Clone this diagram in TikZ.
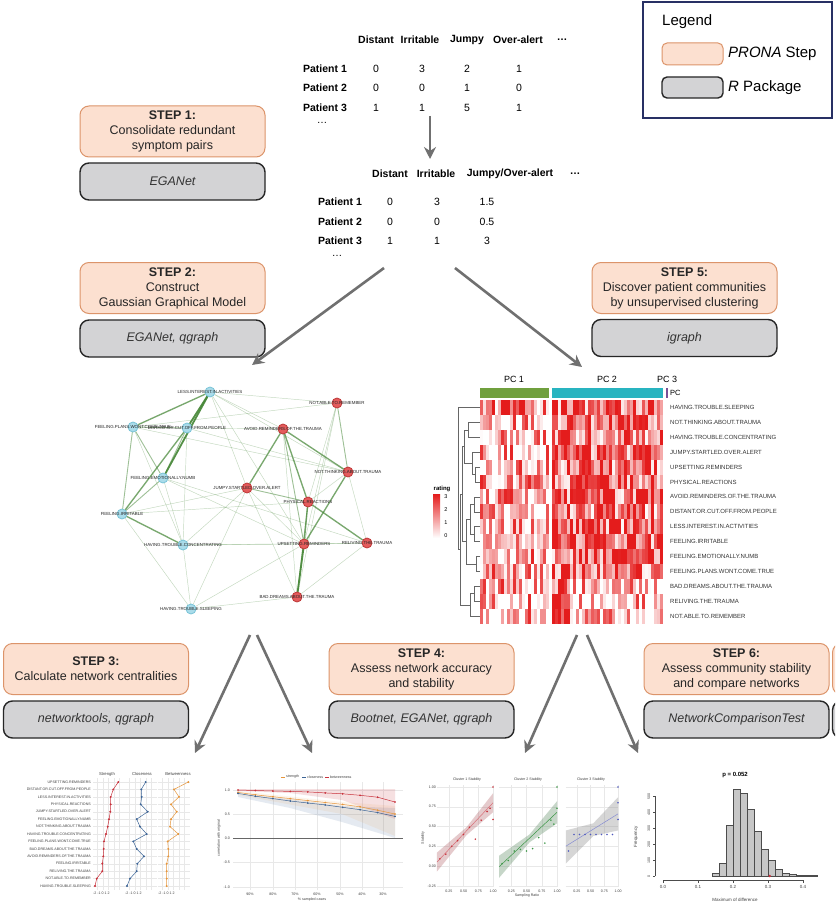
\documentclass[tikz,border=0pt]{standalone}
\usepackage{fontspec}
\setmainfont{Liberation Sans}
\usetikzlibrary{arrows.meta}
\pgfdeclarelayer{bg}
\pgfsetlayers{bg,main}

\definecolor{pronafill}{RGB}{252,224,208}
\definecolor{pronaedge}{RGB}{220,148,106}
\definecolor{rgray}{RGB}{211,211,213}
\definecolor{legendedge}{RGB}{40,48,100}
\definecolor{arrowgray}{RGB}{112,112,112}
\definecolor{netgreen}{RGB}{70,135,55}
\definecolor{netcfill}{RGB}{170,220,234}
\definecolor{netcedge}{RGB}{120,195,215}
\definecolor{netrfill}{RGB}{228,92,92}
\definecolor{netredge}{RGB}{190,55,55}
\definecolor{heatred}{RGB}{228,28,28}
\definecolor{pcgreen}{RGB}{112,160,62}
\definecolor{pcteal}{RGB}{40,180,192}
\definecolor{pcpurple}{RGB}{120,80,150}
\definecolor{cred}{RGB}{200,50,60}
\definecolor{cblue}{RGB}{60,100,150}
\definecolor{corange}{RGB}{230,150,60}
\definecolor{cgreen}{RGB}{60,150,70}
\definecolor{cpblue}{RGB}{80,90,190}

\tikzset{
  prona/.style={draw=pronaedge, fill=pronafill, line width=1pt, rounded corners=9pt,
    minimum width=185pt, minimum height=51pt, align=center, inner sep=2pt,
    text=black!85, font=\fontsize{12.5}{15}\selectfont},
  rpkg/.style={draw=black!85, fill=rgray, line width=1.4pt, rounded corners=9pt,
    minimum width=185pt, minimum height=37pt, inner sep=2pt,
    text=black!80, font=\fontsize{12.5}{15}\selectfont\itshape},
  flow/.style={draw=arrowgray, line width=2.6pt, -{Stealth[length=12pt,width=12pt,inset=4pt]}},
  thead/.style={font=\fontsize{10.5}{12}\selectfont\bfseries, inner sep=0pt},
  tval/.style={font=\fontsize{10.5}{12}\selectfont, inner sep=0pt},
  netc/.style={circle, draw=netcedge, fill=netcfill, line width=0.8pt, minimum size=10pt, inner sep=0pt},
  netr/.style={circle, draw=netredge, fill=netrfill, line width=0.8pt, minimum size=10pt, inner sep=0pt},
  netlab/.style={font=\fontsize{4.4}{5}\selectfont, inner sep=0pt, text=black!85},
  netedge/.style={draw=netgreen, line cap=round},
  hmlab/.style={font=\fontsize{6}{7}\selectfont, anchor=west, inner sep=0pt, text=black!80},
  tiny/.style={font=\fontsize{3.6}{4}\selectfont, inner sep=0pt, text=black!75},
  gridl/.style={draw=black!9, line width=0.3pt},
  dendro/.style={draw=black!60, line width=0.5pt},
}

\begin{document}
\begin{tikzpicture}[x=1pt,y=-1pt]
\useasboundingbox (0,0) rectangle (835,912);
\clip (0,0) rectangle (835,912);
\begin{pgfonlayer}{bg}
\fill[white] (0,0) rectangle (835,912);
\end{pgfonlayer}

%Shape: Legend
\node[draw=legendedge, line width=1.5pt, minimum width=189pt, minimum height=116pt, inner sep=0pt] (legend) at (737.5,60) {};
\node[anchor=west, inner sep=0pt, font=\fontsize{15}{18}\selectfont] (legend-t) at (662,22) {Legend};
\node[prona, minimum width=61pt, minimum height=22pt, rounded corners=5pt] (leg-prona) at (692.5,54) {};
\node[anchor=west, inner sep=0pt, font=\fontsize{15}{18}\selectfont] (leg-prona-t) at (728,54) {\textit{PRONA} Step};
\node[rpkg, minimum width=61pt, minimum height=21pt, rounded corners=5pt] (leg-r) at (692.5,87.5) {};
\node[anchor=west, inner sep=0pt, font=\fontsize{15}{18}\selectfont] (leg-r-t) at (728,87.5) {\textit{R} Package};

% Text Node: raw symptom table
\foreach \name/\x in {Distant/376, Irritable/420, Jumpy/467, Over-alert/518}
  \node[thead] (ha-\name) at (\x,40) {\name};
\node[thead] (ha-dots) at (562,40) {…};
\foreach \r/\y/\a/\b/\c/\d in {1/69/0/3/2/1, 2/88/0/0/1/0, 3/108/1/1/5/1}{
  \node[thead] (pa\r) at (325,\y) {Patient \r};
  \node[tval] (pa\r-1) at (376,\y) {\a};
  \node[tval] (pa\r-2) at (422,\y) {\b};
  \node[tval] (pa\r-3) at (467,\y) {\c};
  \node[tval] (pa\r-4) at (519,\y) {\d};
}
\node[tval] (pa-dots) at (322,123) {…};

% Text Node: merged symptom table
\foreach \name/\x in {Distant/390, Irritable/436, Jumpy\slash Over-alert/510}
  \node[thead] (hb-\x) at (\x,174) {\name};
\node[thead] (hb-dots) at (575,174) {…};
\foreach \r/\y/\a/\b/\c in {1/202/0/3/1.5, 2/222/0/0/0.5, 3/241/1/1/3}{
  \node[thead] (pb\r) at (340,\y) {Patient \r};
  \node[tval] (pb\r-1) at (390,\y) {\a};
  \node[tval] (pb\r-2) at (437,\y) {\b};
  \node[tval] (pb\r-3) at (487,\y) {\c};
}
\node[tval] (pb-dots) at (337,256) {…};

%Straight Lines: table to table
\coordinate (ta-bot) at (430,116);
\coordinate (tb-top) at (430,159);
\draw[flow] (ta-bot) -- (tb-top);

%Shape: steps
\node[prona] (s1) at (172.5,131.5) {\textbf{STEP 1:}\\Consolidate redundant\\symptom pairs};
\node[rpkg] (s1r) at (172.5,181.5) {EGANet};
\node[prona] (s2) at (172.5,288) {\textbf{STEP 2:}\\Construct\\Gaussian Graphical Model};
\node[rpkg] (s2r) at (172.5,338.5) {EGANet, qgraph};
\node[prona] (s5) at (684.5,288) {\textbf{STEP 5:}\\Discover patient communities\\by unsupervised clustering};
\node[rpkg] (s5r) at (684.5,338) {igraph};
\node[prona] (s3) at (96,669) {\textbf{STEP 3:}\\Calculate network centralities};
\node[rpkg] (s3r) at (96,719.5) {networktools, qgraph};
\node[prona] (s4) at (421.5,669) {\textbf{STEP 4:}\\Assess network accuracy\\and stability};
\node[rpkg] (s4r) at (421.5,719.5) {Bootnet, EGANet, qgraph};
\node[prona] (s6) at (736.5,669) {\textbf{STEP 6:}\\Assess community stability\\and compare networks};
\node[rpkg] (s6r) at (736.5,719.5) {NetworkComparisonTest};
\node[prona] (s7) at (925,669) {};
\node[rpkg] (s7r) at (925,719.5) {};

%Straight Lines: table to network and heatmap
\coordinate (tb-l) at (384,268);
\coordinate (net-in) at (252,365);
\coordinate (tb-r) at (455,268);
\coordinate (hm-in) at (582,367);
\draw[flow] (tb-l) -- (net-in);
\draw[flow] (tb-r) -- (hm-in);

%Straight Lines: network and heatmap to plots
\coordinate (net-l) at (250,635);
\coordinate (net-r) at (257,635);
\coordinate (hm-l) at (577,635);
\coordinate (hm-r) at (587,635);
\coordinate (pa-in) at (195,753);
\coordinate (pb-in) at (312,753);
\coordinate (pc-in) at (525,753);
\coordinate (pd-in) at (638,753);
\draw[flow] (net-l) -- (pa-in);
\draw[flow] (net-r) -- (pb-in);
\draw[flow] (hm-l) -- (pc-in);
\draw[flow] (hm-r) -- (pd-in);

%Network graph
\def\netnodes{less/210/392/LESS.INTEREST.IN.ACTIVITIES/netc,
  notable/337/403/NOT.ABLE.TO.REMEMBER/netr,
  plans/133/427/FEELING.PLANS.WONT.COME.TRUE/netc,
  distant/187/428/DISTANT.OR.CUT.OFF.FROM.PEOPLE/netc,
  avoid/283/429/AVOID.REMINDERS.OF.THE.TRAUMA/netr,
  notthink/348/472/NOT.THINKING.ABOUT.TRAUMA/netr,
  numb/163/478/FEELING.EMOTIONALLY.NUMB/netc,
  jumpy/247/488/JUMPY.STARTLED.OVER.ALERT/netr,
  phys/308/502/PHYSICAL.REACTIONS/netr,
  irrit/122/514/FEELING.IRRITABLE/netc,
  conc/183/545/HAVING.TROUBLE.CONCENTRATING/netc,
  upset/304/544/UPSETTING.REMINDERS/netr,
  reliv/367/543/RELIVING.THE.TRAUMA/netr,
  bad/297/597/BAD.DREAMS.ABOUT.THE.TRAUMA/netr,
  sleep/191/609/HAVING.TROUBLE.SLEEPING/netc}
\foreach \n/\x/\y/\t/\s in \netnodes
  \node[\s] (\n) at (\x,\y) {};
\foreach \n/\x/\y/\t/\s in \netnodes
  \node[netlab] (\n-t) at (\x,\y) {\t};
\begin{pgfonlayer}{bg}
\foreach \a/\b/\w in {less/distant/4, less/numb/4, less/plans/3, distant/irrit/3,
  numb/irrit/2, plans/irrit/2, plans/numb/2, plans/distant/2, irrit/conc/3,
  plans/conc/1, numb/conc/1, distant/conc/1, distant/numb/2, conc/sleep/1,
  irrit/sleep/1, avoid/jumpy/3, avoid/phys/3, avoid/notthink/3, avoid/upset/2,
  notthink/upset/3, notthink/notable/2, notthink/phys/1, notthink/reliv/1,
  phys/upset/3, phys/reliv/3, upset/bad/4, phys/bad/2, upset/reliv/1, reliv/bad/1,
  jumpy/phys/2, jumpy/conc/1, jumpy/bad/1, jumpy/sleep/1, less/avoid/1,
  less/notthink/1, less/jumpy/1, less/upset/1, notable/upset/1, notable/less/1,
  notable/plans/1, notable/bad/1, distant/avoid/1, numb/upset/1, numb/reliv/1,
  conc/upset/1, conc/reliv/1, irrit/phys/1, sleep/bad/1, sleep/upset/1,
  plans/notthink/1, distant/notthink/1, jumpy/upset/1, avoid/bad/1,
  notable/phys/1, irrit/jumpy/1}{
  \pgfmathsetmacro\lw{0.45*\w}
  \pgfmathsetmacro\op{0.12+0.2*\w}
  \draw[netedge, line width=\lw pt, draw opacity=\op] (\a) -- (\b);
}
\end{pgfonlayer}

%Heatmap: rating legend
\node[inner sep=0pt, font=\fontsize{6}{7}\selectfont\bfseries] (rating) at (442,489) {rating};
\shade[top color=heatred, bottom color=white] (433,494) rectangle (440,538);
\foreach \v/\y in {3/497, 2/510, 1/523, 0/536}
  \node[inner sep=0pt, font=\fontsize{5.5}{6}\selectfont] (rt\v) at (446,\y) {\v};

%Heatmap: cluster bar
\fill[pcgreen] (480,388) rectangle (549,398);
\fill[pcteal] (552,388) rectangle (663,398);
\fill[pcpurple] (666,388) rectangle (668,398);
\node[inner sep=0pt, font=\fontsize{9}{10}\selectfont] (pc1) at (514,379) {PC 1};
\node[inner sep=0pt, font=\fontsize{9}{10}\selectfont] (pc2) at (607,379) {PC 2};
\node[inner sep=0pt, font=\fontsize{9}{10}\selectfont] (pc3) at (667,379) {PC 3};
\node[inner sep=0pt, anchor=west, font=\fontsize{7.5}{8}\selectfont] (pcl) at (670,393) {PC};

%Heatmap: cells
\pgfmathsetseed{42}
\foreach \r in {0,...,14}{
  \foreach \c in {0,...,22}{
    \pgfmathsetmacro\base{\r==0 ? 55 : 28}
    \pgfmathsetmacro\v{int(max(0,min(100,\base+70*rand)))}
    \fill[heatred!\v!white] (480+3*\c,400+14.9*\r) rectangle +(3,14.9);
  }
  \foreach \c in {0,...,36}{
    \pgfmathsetmacro\base{(\r>11 && \c<6) ? 85 : (\r>11 ? 22 : 72)}
    \pgfmathsetmacro\v{int(max(0,min(100,\base+70*rand)))}
    \fill[heatred!\v!white] (552+3*\c,400+14.9*\r) rectangle +(3,14.9);
  }
}

%Heatmap: row labels
\foreach \lab [count=\i from 0] in {HAVING.TROUBLE.SLEEPING, NOT.THINKING.ABOUT.TRAUMA,
  HAVING.TROUBLE.CONCENTRATING, JUMPY.STARTLED.OVER.ALERT, UPSETTING.REMINDERS,
  PHYSICAL.REACTIONS, AVOID.REMINDERS.OF.THE.TRAUMA, DISTANT.OR.CUT.OFF.FROM.PEOPLE,
  LESS.INTEREST.IN.ACTIVITIES, FEELING.IRRITABLE, FEELING.EMOTIONALLY.NUMB,
  FEELING.PLANS.WONT.COME.TRUE, BAD.DREAMS.ABOUT.THE.TRAUMA, RELIVING.THE.TRAUMA,
  NOT.ABLE.TO.REMEMBER}
  \node[hmlab] (hr\i) at (670,407.45+14.9*\i) {\lab};

%Heatmap: dendrogram
\draw[dendro] (480,422.35) -| (468,437.25) -- (480,437.25);
\draw[dendro] (480,467.05) -| (475,481.95) -- (480,481.95);
\draw[dendro] (480,452.15) -| (472,474.5) -- (475,474.5);
\draw[dendro] (480,496.85) -| (474,511.75) -- (480,511.75);
\draw[dendro] (480,526.65) -| (474,541.55) -- (480,541.55);
\draw[dendro] (480,556.45) -| (476,571.35) -- (480,571.35);
\draw[dendro] (474,504.3) -| (470,534.1) -- (474,534.1);
\draw[dendro] (470,519.2) -| (466,563.9) -- (476,563.9);
\draw[dendro] (480,586.25) -| (474,601.15) -- (480,601.15);
\draw[dendro] (474,593.7) -| (470,616.05) -- (480,616.05);
\draw[dendro] (468,429.8) -| (464,463.3) -- (472,463.3);
\draw[dendro] (464,446.5) -| (462,541.5) -- (466,541.5);
\draw[dendro] (462,494) -| (460,604.9) -- (470,604.9);
\draw[dendro] (480,407.45) -| (458,549.4) -- (460,549.4);

%Plot A: centralities
\foreach \x in {93,125,158}{
  \foreach \k in {0,...,14}
    \draw[gridl] (\x,782+7.43*\k) -- +(32,0);
  \foreach \k in {1,...,5}
    \draw[gridl] (\x+5.5*\k-1,778) -- +(0,112);
}
\foreach \lab [count=\i from 0] in {UPSETTING.REMINDERS, DISTANT.OR.CUT.OFF.FROM.PEOPLE,
  LESS.INTEREST.IN.ACTIVITIES, PHYSICAL.REACTIONS, JUMPY.STARTLED.OVER.ALERT,
  FEELING.EMOTIONALLY.NUMB, NOT.THINKING.ABOUT.TRAUMA, HAVING.TROUBLE.CONCENTRATING,
  FEELING.PLANS.WONT.COME.TRUE, BAD.DREAMS.ABOUT.THE.TRAUMA,
  AVOID.REMINDERS.OF.THE.TRAUMA, FEELING.IRRITABLE, RELIVING.THE.TRAUMA,
  NOT.ABLE.TO.REMEMBER, HAVING.TROUBLE.SLEEPING}
  \node[tiny, anchor=east] (ca\i) at (91,782+7.43*\i) {\lab};
\node[tiny, font=\fontsize{4.2}{5}\selectfont] (ca-s) at (107,774) {Strength};
\node[tiny, font=\fontsize{4.2}{5}\selectfont] (ca-c) at (142,774) {Closeness};
\node[tiny, font=\fontsize{4.2}{5}\selectfont] (ca-b) at (178,774) {Betweenness};
\foreach \x in {95,127,160}
  \node[tiny, anchor=west] (cat\x) at (\x-2,893) {-2 -1 0 1 2};
\draw[cred, line width=0.5pt] plot[mark=*, mark size=0.7pt] coordinates {(118.3,782) (113.3,789.4) (110.7,796.9) (110.7,804.3) (110.3,811.7) (109,819.2) (107.7,826.6) (106,834) (104,841.4) (103.7,848.9) (103.3,856.3) (102.3,863.7) (102.3,871.2) (96.7,878.6) (95,886)};
\draw[cblue, line width=0.5pt] plot[mark=*, mark size=0.7pt] coordinates {(145.7,782) (141.3,789.4) (141.7,796.9) (140.7,804.3) (147.7,811.7) (136.7,819.2) (140,826.6) (146.7,834) (133.3,841.4) (136.7,848.9) (144,856.3) (137.3,863.7) (136.7,871.2) (130,878.6) (127,886)};
\draw[corange, line width=0.5pt] plot[mark=*, mark size=0.7pt] coordinates {(188.3,782) (174,789.4) (179,796.9) (171,804.3) (176.7,811.7) (171,819.2) (170,826.6) (178.3,834) (167.7,841.4) (168.3,848.9) (168.3,856.3) (166.7,863.7) (166.7,871.2) (166.7,878.6) (166.7,886)};

%Plot B: stability curves
\foreach \y in {790,814,838,862,887}
  \draw[gridl] (233,\y) -- (403,\y);
\foreach \x in {250,273,295,317,340,362,383}
  \draw[gridl] (\x,782) -- (\x,890);
\fill[cblue, opacity=0.13] (238,794) -- (290,799) -- (342,806) -- (395,808) -- (395,838) -- (342,822) -- (290,808) -- (238,797) -- cycle;
\fill[cred, opacity=0.15] (238,789) -- (395,789) -- (395,819) -- (342,800) -- (290,793) -- (238,791) -- cycle;
\fill[corange, opacity=0.1] (238,791) -- (342,802) -- (395,806) -- (395,836) -- (342,814) -- (238,795) -- cycle;
\draw[black!60, line width=0.5pt] (233,838) -- (403,838);
\draw[corange, line width=0.5pt] plot[mark=*, mark size=0.6pt] coordinates {(238,792.4) (255.4,794.8) (272.9,796.7) (290.3,798.6) (307.8,800.6) (325.2,802.5) (342.7,804.4) (360.1,806.8) (377.6,810.2) (395,814)};
\draw[cblue, line width=0.5pt] plot[mark=*, mark size=0.6pt] coordinates {(238,793.4) (255.4,796.2) (272.9,798.6) (290.3,801) (307.8,803) (325.2,804.9) (342.7,807.3) (360.1,809.7) (377.6,812.6) (395,816.4)};
\draw[cred, line width=0.5pt] plot[mark=*, mark size=0.6pt] coordinates {(238,790) (255.4,790.5) (272.9,791) (290.3,791.4) (307.8,791.9) (325.2,792.9) (342.7,793.8) (360.1,795.3) (377.6,797.2) (395,802)};
\foreach \t/\y in {1.0/790, 0.5/814, 0.0/838, -0.5/862, -1.0/887}
  \node[tiny, anchor=east] (cb\y) at (230,\y) {\t};
\foreach \t/\x in {90\%/250, 80\%/273, 70\%/295, 60\%/317, 50\%/340, 40\%/362, 30\%/383}
  \node[tiny] (cbx\x) at (\x,894) {\t};
\node[tiny] (cb-xt) at (312,900) {\% sampled cases};
\node[tiny, rotate=90] (cb-yt) at (219,838) {correlation with original};
\draw[corange, line width=0.6pt] (281,777) -- (285,777);
\node[tiny, anchor=west] (cb-l1) at (286,777) {strength};
\draw[cblue, line width=0.6pt] (302,777) -- (306,777);
\node[tiny, anchor=west] (cb-l2) at (307,777) {closeness};
\draw[cred, line width=0.6pt] (325,777) -- (329,777);
\node[tiny, anchor=west] (cb-l3) at (330,777) {betweenness};

%Plot C: cluster stability
\foreach \x/\s in {434/59, 496/61, 563/55}{
  \foreach \v in {-0.25,0,0.25,0.5,0.75,1}
    \draw[gridl] (\x+\s*0.05,866-79*\v) -- (\x+\s*1.02,866-79*\v);
  \foreach \r in {0.25,0.5,0.75,1}
    \draw[gridl] (\x+\s*\r,785) -- (\x+\s*\r,887);
  \foreach \r in {0.25,0.50,0.75,1.00}
    \node[tiny] (ccx\x-\r) at (\x+\s*\r,891) {\r};
}
\fill[cred!60!gray, opacity=0.3] (434+59*0.05,866-79*0.17) -- (434+59*0.55,866-79*0.49) -- (434+59*1,866-79*0.92) -- (434+59*1,866-79*0.68) -- (434+59*0.55,866-79*0.39) -- (434+59*0.05,866+79*0.07) -- cycle;
\draw[cred!70, line width=0.5pt] (434+59*0.05,866-79*0.05) -- (434+59*1,866-79*0.80);
\foreach \r/\v in {0.1/0.09, 0.2/0.15, 0.3/0.25, 0.4/0.32, 0.5/0.40, 0.6/0.49, 0.7/0.34, 0.8/0.58, 0.9/0.69, 0.95/0.73, 1.0/1.0, 1.0/0.59}
  \fill[cred] (434+59*\r,866-79*\v) circle (0.9);
\fill[cgreen!50!gray, opacity=0.35] (496+61*0.05,866-79*0.13) -- (496+61*0.55,866-79*0.40) -- (496+61*1,866-79*0.82) -- (496+61*1,866-79*0.54) -- (496+61*0.55,866-79*0.30) -- (496+61*0.05,866+79*0.15) -- cycle;
\draw[cgreen, line width=0.5pt] (496+61*0.05,866+79*0.01) -- (496+61*1,866-79*0.68);
\foreach \r/\v in {0.1/0.03, 0.2/0.07, 0.3/0.19, 0.4/0.21, 0.5/0.19, 0.6/0.22, 0.7/0.36, 0.8/0.29, 0.9/0.58, 0.95/0.53, 1.0/0.73, 1.0/1.0}
  \fill[cgreen] (496+61*\r,866-79*\v) circle (0.9);
\fill[black!45, opacity=0.35] (563+55*0.05,866-79*0.45) -- (563+55*0.55,866-79*0.54) -- (563+55*1,866-79*0.87) -- (563+55*1,866-79*0.45) -- (563+55*0.55,866-79*0.38) -- (563+55*0.05,866-79*0.03) -- cycle;
\draw[cpblue!70, line width=0.5pt] (563+55*0.05,866-79*0.25) -- (563+55*1,866-79*0.66);
\foreach \r/\v in {0.1/0.19, 0.2/0.40, 0.3/0.40, 0.4/0.40, 0.5/0.40, 0.6/0.40, 0.7/0.40, 0.8/0.40, 0.9/0.40, 1.0/0.59, 1.0/0.80, 1.0/1.0}
  \fill[cpblue] (563+55*\r,866-79*\v) circle (0.9);
\node[tiny] (cc-t1) at (467,780) {Cluster 1 Stability};
\node[tiny] (cc-t2) at (528,780) {Cluster 2 Stability};
\node[tiny] (cc-t3) at (591,780) {Cluster 3 Stability};
\foreach \t/\v in {1.00/1, 0.75/0.75, 0.50/0.5, 0.25/0.25, 0.00/0, -0.25/-0.25}
  \node[tiny, anchor=east] (ccy\t) at (436,866-79*\v) {\t};
\node[tiny, rotate=90] (cc-yt) at (423,838) {Stability};
\node[tiny] (cc-xt) at (527,896) {Sampling Ratio};

%Plot D: histogram
\foreach \a/\c in {0.14/15, 0.16/80, 0.18/320, 0.20/540, 0.22/520, 0.24/420, 0.26/280, 0.28/170, 0.30/100, 0.32/40, 0.34/20, 0.36/10, 0.38/4, 0.40/3, 0.42/2}
  \filldraw[fill=black!22, draw=black!70, line width=0.4pt] (663+350*\a,876) rectangle (670+350*\a,876-0.16*\c);
\draw[black!70, line width=0.4pt] (663,880) -- (803,880);
\foreach \t in {0.0,0.1,0.2,0.3,0.4}{
  \draw[black!70, line width=0.4pt] (663+350*\t,880) -- +(0,2.5);
  \node[tiny, font=\fontsize{4.5}{5}\selectfont] (cdx\t) at (663+350*\t,887) {\t};
}
\draw[black!70, line width=0.4pt] (655,876) -- (655,796);
\foreach \c in {0,100,200,300,400,500}{
  \draw[black!70, line width=0.4pt] (655,876-0.16*\c) -- +(-2.5,0);
  \node[tiny, rotate=90] (cdy\c) at (649,876-0.16*\c) {\c};
}
\fill[cred] (663+350*0.305,876) circle (1.3);
\node[inner sep=0pt, font=\fontsize{6}{7}\selectfont\bfseries] (cd-p) at (735,775) {p = 0.052};
\node[tiny, rotate=90, font=\fontsize{4.5}{5}\selectfont] (cd-yt) at (636,837) {Frequency};
\node[tiny, font=\fontsize{4.5}{5}\selectfont] (cd-xt) at (735,900) {Maximum of difference};
\end{tikzpicture}
\end{document}
